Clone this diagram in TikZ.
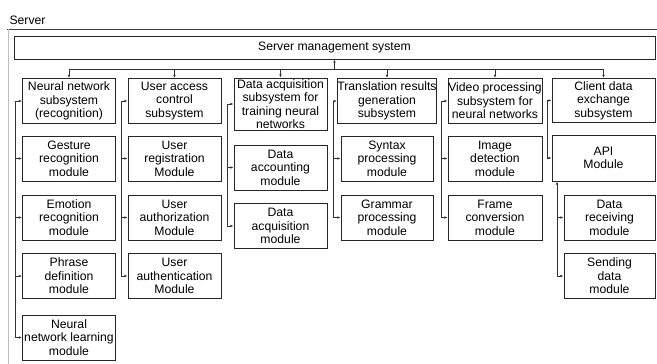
\documentclass[tikz,border=0pt]{standalone}
\usepackage{fontspec}
\setmainfont{Liberation Sans}
\usetikzlibrary{arrows.meta}

\begin{document}
\begin{tikzpicture}[x=1pt,y=-1pt,
    mb/.style={rectangle,draw=black!85,line width=1pt,inner sep=0pt,align=center,
               minimum width=93,minimum height=45,font=\fontsize{12.2}{13.5}\selectfont},
    arr/.style={-{Latex[length=3.2pt,width=2.6pt]},line width=0.8pt,black!80}]
    \useasboundingbox (0,0) rectangle (657,364);

    \node[anchor=west,font=\fontsize{12.2}{13.5}\selectfont] (title) at (6,20) {Server};
    \draw[black!75,line width=0.9pt] (7,29) -- (657,29);
    \draw[black!25,line width=0.8pt] (8,29) -- (8,364);

    \node[mb,minimum width=641,minimum height=23] (mgmt) at (334.5,47.5) {Server management system};

    % subsystems
    \node[mb] (nn)     at (69,101)    {Neural network\\subsystem\\(recognition)};
    \node[mb] (uac)    at (174.5,101) {User access\\control\\subsystem};
    \node[mb,minimum height=52] (dacq) at (280.5,104) {Data acquisition\\subsystem for\\training neural\\networks};
    \node[mb,minimum width=92] (trans) at (387,101) {Translation results\\generation\\subsystem};
    \node[mb,minimum width=94] (video) at (495,101) {Video processing\\subsystem for\\neural networks};
    \node[mb,minimum width=103,minimum height=44] (client) at (603.5,100.5) {Client data\\exchange\\subsystem};

    % modules
    \node[mb] (gest)   at (69,158.5)    {Gesture\\recognition\\module};
    \node[mb] (emo)    at (69,217.5)    {Emotion\\recognition\\module};
    \node[mb] (phr)    at (69,276)      {Phrase\\definition\\module};
    \node[mb] (learn)  at (69,337.5)    {Neural\\network learning\\module};
    \node[mb] (ureg)   at (174.5,158.5) {User\\registration\\Module};
    \node[mb] (uauthz) at (174.5,217.5) {User\\authorization\\Module};
    \node[mb] (uauth)  at (174.5,276)   {User\\authentication\\Module};
    \node[mb] (dacc)   at (280.5,167.5) {Data\\accounting\\module};
    \node[mb] (dget)   at (280.5,226)   {Data\\acquisition\\module};
    \node[mb,minimum width=92] (syn)  at (387,158.5) {Syntax\\processing\\module};
    \node[mb,minimum width=92] (gram) at (387,217.5) {Grammar\\processing\\module};
    \node[mb,minimum width=94] (img)  at (495,158.5) {Image\\detection\\module};
    \node[mb,minimum width=94] (frame) at (495,217.5) {Frame\\conversion\\module};
    \node[mb,minimum width=103,minimum height=46] (api) at (603.5,158) {API\\Module};
    \node[mb,minimum width=91] (recv)  at (609.5,217.5) {Data\\receiving\\module};
    \node[mb,minimum width=91] (send)  at (609.5,276)   {Sending\\data\\module};

    % bus to management system
    \coordinate (bus) at (334.5,69);
    \draw[line width=0.8pt,black!80] (nn.north |- bus) -- (client.north |- bus);
    \draw[arr] (bus) -- (mgmt.south);
    \foreach \b in {nn,uac,dacq,trans,video,client}
        \draw[arr] (\b.north |- bus) -- (\b.north);

    % feeders
    \coordinate (f1) at (15,101);
    \coordinate (f2) at (121,101);
    \coordinate (f3) at (227,104);
    \coordinate (f4) at (333,101);
    \coordinate (f5) at (441,101);
    \coordinate (f6) at (547,100.5);
    \foreach \b in {nn,gest,emo,phr,learn} \draw[arr] (f1) |- (\b.west);
    \foreach \b in {uac,ureg,uauthz,uauth} \draw[arr] (f2) |- (\b.west);
    \foreach \b in {dacq,dacc,dget} \draw[arr] (f3) |- (\b.west);
    \foreach \b in {trans,syn,gram} \draw[arr] (f4) |- (\b.west);
    \foreach \b in {video,img,frame} \draw[arr] (f5) |- (\b.west);
    \foreach \b in {client,api} \draw[arr] (f6) |- (\b.west);

    \coordinate (f7) at (557,276);
    \draw[arr] (f7) -- (f7 |- api.south);
    \draw[arr] (f7) |- (recv.west);
    \draw[arr] (f7) -- (send.west);
\end{tikzpicture}
\end{document}
